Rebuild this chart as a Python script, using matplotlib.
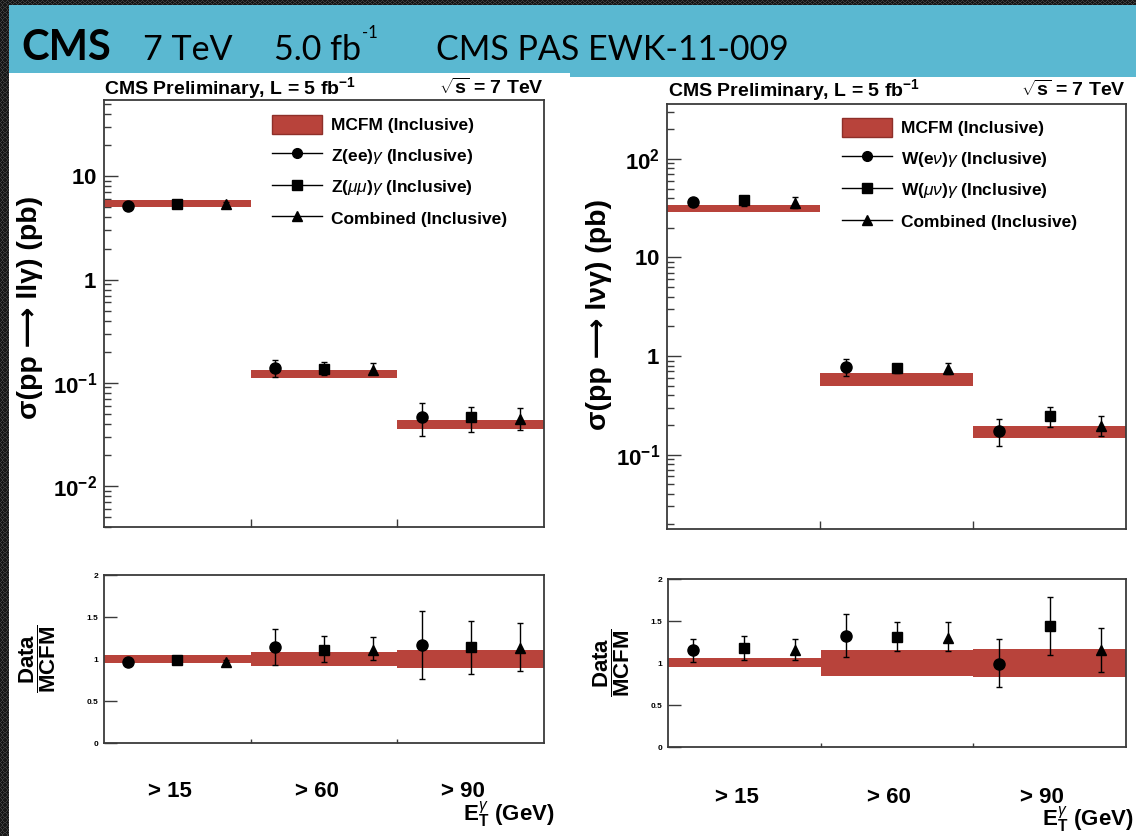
import numpy as np
import matplotlib
matplotlib.use('Agg')
import matplotlib.pyplot as plt
from matplotlib.patches import Rectangle, Patch
from matplotlib.lines import Line2D
from matplotlib.ticker import FixedLocator, LogLocator, NullFormatter, FuncFormatter, FixedFormatter

plt.rcParams['mathtext.fontset'] = 'custom'
plt.rcParams['mathtext.rm'] = 'Liberation Sans'
plt.rcParams['mathtext.bf'] = 'Liberation Sans:bold'
plt.rcParams['mathtext.it'] = 'Liberation Sans:italic'
plt.rcParams['mathtext.sf'] = 'Liberation Sans'
plt.rcParams['font.family'] = ['Liberation Sans', 'DejaVu Sans']

W, H = 1136, 836

categories = ['> 15', '> 60', '> 90']

# ---------------- Z gamma (left) ----------------
zg_mcfm_lo = [5.05, 0.112, 0.036]
zg_mcfm_hi = [5.85, 0.132, 0.044]
zg_ee = [5.22, 0.139, 0.0468]
zg_ee_lo = [4.95, 0.1135, 0.0308]
zg_ee_hi = [5.50, 0.168, 0.0634]
zg_mm = [5.43, 0.1364, 0.0461]
zg_mm_lo = [5.15, 0.1186, 0.033]
zg_mm_hi = [5.75, 0.158, 0.0588]
zg_cb = [5.35, 0.1325, 0.0444]
zg_cb_lo = [5.08, 0.122, 0.0348]
zg_cb_hi = [5.62, 0.156, 0.0575]

zg_r_band_lo = [0.95, 0.92, 0.89]
zg_r_band_hi = [1.05, 1.08, 1.11]
zg_r_ee = [0.96, 1.14, 1.17]
zg_r_ee_lo = [0.93, 0.93, 0.76]
zg_r_ee_hi = [0.99, 1.36, 1.57]
zg_r_mm = [0.99, 1.11, 1.14]
zg_r_mm_lo = [0.96, 0.96, 0.82]
zg_r_mm_hi = [1.02, 1.27, 1.45]
zg_r_cb = [0.97, 1.11, 1.13]
zg_r_cb_lo = [0.95, 0.99, 0.86]
zg_r_cb_hi = [0.99, 1.26, 1.43]

# ---------------- W gamma (right) ----------------
wg_mcfm_lo = [29.2, 0.50, 0.148]
wg_mcfm_hi = [33.7, 0.665, 0.195]
wg_en = [36.8, 0.773, 0.1726]
wg_en_lo = [33.2, 0.626, 0.1236]
wg_en_hi = [39.8, 0.925, 0.2306]
wg_mn = [37.9, 0.762, 0.249]
wg_mn_lo = [33.2, 0.667, 0.191]
wg_mn_hi = [41.9, 0.823, 0.306]
wg_cb = [36.0, 0.732, 0.194]
wg_cb_lo = [31.9, 0.65, 0.156]
wg_cb_hi = [40.9, 0.856, 0.245]

wg_r_band_lo = [0.95, 0.85, 0.835]
wg_r_band_hi = [1.055, 1.15, 1.165]
wg_r_en = [1.15, 1.325, 0.99]
wg_r_en_lo = [1.01, 1.075, 0.714]
wg_r_en_hi = [1.29, 1.587, 1.286]
wg_r_mn = [1.174, 1.31, 1.436]
wg_r_mn_lo = [1.04, 1.138, 1.09]
wg_r_mn_hi = [1.325, 1.484, 1.781]
wg_r_cb = [1.158, 1.298, 1.15]
wg_r_cb_lo = [1.04, 1.138, 0.893]
wg_r_cb_hi = [1.289, 1.484, 1.417]

RED = '#b8433b'
RED_EDGE = '#8e2f29'
BLUE = '#5ab8d1'

fig = plt.figure(figsize=(W / 100, H / 100), dpi=100)
fig.patch.set_facecolor('#1b1b1b')

# dotted dark background texture
yy, xx = np.mgrid[0:H, 0:W]
d = ((xx % 5) - 2) ** 2 + ((yy % 5) - 2) ** 2
val = np.where(d <= 1, 20, np.where(d <= 4, 62, 24)).astype(np.uint8)
img = np.dstack([val, val, val])
fig.figimage(img, 0, 0, origin='upper', zorder=-3)


def frect(x0, y0, x1, y1, color):
    fig.patches.append(Rectangle((x0 / W, 1 - y1 / H), (x1 - x0) / W, (y1 - y0) / H,
                                 transform=fig.transFigure, facecolor=color,
                                 edgecolor='none', zorder=-2))


frect(9, 5, W, 77, BLUE)
frect(9, 73, 570, H, 'white')
frect(570, 77, W, H, 'white')

# header text
hy = 1 - 60 / H
HF = ['Lato', 'DejaVu Sans']
fig.text(21 / W, hy, 'CMS', fontsize=30, fontweight='bold', family=HF,
         va='baseline', ha='left', color='black')
fig.text(143 / W, hy, '7 TeV', fontsize=24.5, family=HF,
         va='baseline', ha='left', color='black')
t_fb = fig.text(274 / W, hy, '5.0 fb', fontsize=24.5, family=HF,
                va='baseline', ha='left', color='black')
fig.text(436 / W, hy, 'CMS PAS EWK-11-009', fontsize=24.5, family=HF,
         va='baseline', ha='left', color='black')
renderer = fig.canvas.get_renderer()
bb = t_fb.get_window_extent(renderer)
fig.text(bb.x1 / W + 1 / W, 1 - 38 / H, '-1', fontsize=12, family=HF,
         va='baseline', ha='left', color='black')


def add_ax(x0, y0, x1, y1):
    return fig.add_axes([x0 / W, 1 - y1 / H, (x1 - x0) / W, (y1 - y0) / H])


def style_spines(ax):
    for s in ax.spines.values():
        s.set_color('#3a3a3a')
        s.set_linewidth(1.3)


def log_fmt(v, pos):
    e = int(round(np.log10(v)))
    if e == 0:
        return r'$\mathbf{1}$'
    if e == 1:
        return r'$\mathbf{10}$'
    return r'$\mathbf{10^{%d}}$' % e


offs = [1 / 6, 1 / 2, 5 / 6]
markers = ['o', 's', '^']
msizes = [8, 7.5, 7.5]


def draw_main(ax, lo_b, hi_b, series, ylim):
    x = np.arange(3)
    ax.bar(x, np.array(hi_b) - np.array(lo_b), bottom=lo_b, width=1.0, align='edge',
           color=RED, edgecolor='none', zorder=2)
    for k, (v, lo, hi) in enumerate(series):
        v = np.array(v); lo = np.array(lo); hi = np.array(hi)
        ax.errorbar(x + offs[k], v, yerr=[v - lo, hi - v], fmt=markers[k], color='black',
                    ms=msizes[k], elinewidth=1.0, capsize=2.5, capthick=1.0, zorder=3)
    ax.set_yscale('log')
    ax.set_xlim(0, 3)
    ax.set_ylim(*ylim)
    ax.yaxis.set_major_locator(LogLocator(base=10, numticks=12))
    ax.yaxis.set_minor_locator(LogLocator(base=10, subs=np.arange(2, 10), numticks=12))
    ax.yaxis.set_major_formatter(FuncFormatter(log_fmt))
    ax.yaxis.set_minor_formatter(NullFormatter())
    ax.xaxis.set_major_locator(FixedLocator([1, 2]))
    ax.xaxis.set_major_formatter(NullFormatter())
    ax.tick_params(axis='y', which='major', direction='in', length=10, width=1.0,
                   labelsize=16, pad=5, color='#3a3a3a')
    ax.tick_params(axis='y', which='minor', direction='in', length=5, width=1.0, color='#3a3a3a')
    ax.tick_params(axis='x', which='major', direction='in', length=6, width=1.0, color='#3a3a3a')
    ax.tick_params(axis='x', which='minor', bottom=False)
    style_spines(ax)


def draw_ratio(ax, lo_b, hi_b, series, label_y):
    x = np.arange(3)
    ax.bar(x, np.array(hi_b) - np.array(lo_b), bottom=lo_b, width=1.0, align='edge',
           color=RED, edgecolor='none', zorder=2)
    for k, (v, lo, hi) in enumerate(series):
        v = np.array(v); lo = np.array(lo); hi = np.array(hi)
        ax.errorbar(x + offs[k], v, yerr=[v - lo, hi - v], fmt=markers[k], color='black',
                    ms=msizes[k], elinewidth=1.0, capsize=2.5, capthick=1.0, zorder=3)
    ax.set_xlim(0, 3)
    ax.set_ylim(0, 2)
    ax.yaxis.set_major_locator(FixedLocator([0, 0.5, 1, 1.5, 2]))
    ax.yaxis.set_major_formatter(FixedFormatter(['0', '0.5', '1', '1.5', '2']))
    ax.xaxis.set_major_locator(FixedLocator([1, 2]))
    ax.xaxis.set_major_formatter(NullFormatter())
    ax.tick_params(axis='y', direction='in', length=9, width=1.0, labelsize=6, pad=4,
                   color='#3a3a3a')
    ax.tick_params(axis='x', direction='in', length=3, width=1.0, color='#3a3a3a')
    for lab in ax.get_yticklabels():
        lab.set_fontweight('bold')
    style_spines(ax)
    for i, c in enumerate(categories):
        ax.text(i + 0.45, label_y, c, transform=ax.get_xaxis_transform(), ha='center',
                va='center', fontsize=16, fontweight='bold')
    ax.set_ylabel(r'$\dfrac{\mathbf{Data}}{\mathbf{MCFM}}$', fontsize=16)


def draw_legend(ax, labels, anchor):
    handles = [Patch(facecolor=RED, edgecolor=RED_EDGE, linewidth=1.0)]
    for k in range(3):
        handles.append(Line2D([], [], color='black', lw=1.0, marker=markers[k],
                              ms=msizes[k] - 1))
    ax.legend(handles, ['MCFM (Inclusive)'] + labels, loc='upper left',
              bbox_to_anchor=anchor, frameon=False, prop={'size': 12.5, 'weight': 'bold'},
              handlelength=2.9, handleheight=1.3, labelspacing=0.66, handletextpad=0.5,
              borderpad=0, borderaxespad=0)


# ---------------- left plot ----------------
axL = add_ax(104, 100, 544, 527)
draw_main(axL, zg_mcfm_lo, zg_mcfm_hi,
          [(zg_ee, zg_ee_lo, zg_ee_hi), (zg_mm, zg_mm_lo, zg_mm_hi), (zg_cb, zg_cb_lo, zg_cb_hi)],
          (0.004, 55))
draw_legend(axL, [r'Z(ee)$\gamma$ (Inclusive)', r'Z($\mu\mu$)$\gamma$ (Inclusive)',
                  'Combined (Inclusive)'], (0.382, 0.965))
axL.set_ylabel('σ(pp ⟶ llγ) (pb)', fontsize=20.5, fontweight='bold')
axL.yaxis.set_label_coords(-0.139, 0.515)
fig.text(104 / W, 1 - 88 / H, r'CMS Preliminary, L = 5 fb$^{\mathbf{-1}}$', fontsize=14,
         fontweight='bold', va='center', ha='left')
fig.text(544 / W, 1 - 88 / H, r'$\sqrt{\mathbf{s}}$ = 7 TeV', fontsize=14,
         fontweight='bold', va='center', ha='right')

axLr = add_ax(104, 575, 544, 743)
draw_ratio(axLr, zg_r_band_lo, zg_r_band_hi,
           [(zg_r_ee, zg_r_ee_lo, zg_r_ee_hi), (zg_r_mm, zg_r_mm_lo, zg_r_mm_hi),
            (zg_r_cb, zg_r_cb_lo, zg_r_cb_hi)], -0.29)
axLr.yaxis.set_label_coords(-0.105, 0.5)
fig.text(555 / W, 1 - 815 / H, r'$\mathbf{E}_{\mathbf{T}}^{\gamma}$ (GeV)', fontsize=16,
         fontweight='bold', va='center', ha='right')

# ---------------- right plot ----------------
axR = add_ax(667, 104, 1126, 529)
draw_main(axR, wg_mcfm_lo, wg_mcfm_hi,
          [(wg_en, wg_en_lo, wg_en_hi), (wg_mn, wg_mn_lo, wg_mn_hi), (wg_cb, wg_cb_lo, wg_cb_hi)],
          (0.0176, 360))
draw_legend(axR, [r'W(e$\nu$)$\gamma$ (Inclusive)', r'W($\mu\nu$)$\gamma$ (Inclusive)',
                  'Combined (Inclusive)'], (0.381, 0.967))
axR.set_ylabel('σ(pp ⟶ lνγ) (pb)', fontsize=20.5, fontweight='bold')
axR.yaxis.set_label_coords(-0.12, 0.504)
fig.text(668 / W, 1 - 90 / H, r'CMS Preliminary, L = 5 fb$^{\mathbf{-1}}$', fontsize=14,
         fontweight='bold', va='center', ha='left')
fig.text(1126 / W, 1 - 90 / H, r'$\sqrt{\mathbf{s}}$ = 7 TeV', fontsize=14,
         fontweight='bold', va='center', ha='right')

axRr = add_ax(668, 579, 1126, 747)
draw_ratio(axRr, wg_r_band_lo, wg_r_band_hi,
           [(wg_r_en, wg_r_en_lo, wg_r_en_hi), (wg_r_mn, wg_r_mn_lo, wg_r_mn_hi),
            (wg_r_cb, wg_r_cb_lo, wg_r_cb_hi)], -0.30)
axRr.yaxis.set_label_coords(-0.079, 0.5)
fig.text(1134 / W, 1 - 820 / H, r'$\mathbf{E}_{\mathbf{T}}^{\gamma}$ (GeV)', fontsize=16,
         fontweight='bold', va='center', ha='right')

fig.savefig('out.png', dpi=100)
